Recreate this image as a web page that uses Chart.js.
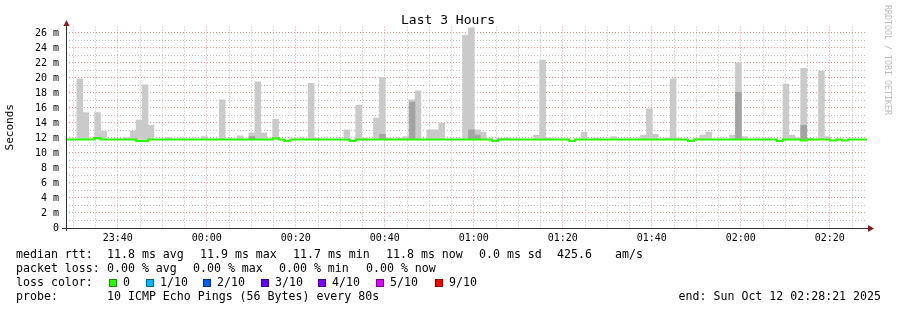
<!DOCTYPE html>
<html>
<head>
<meta charset="utf-8">
<script src="https://cdn.jsdelivr.net/npm/chart.js@4"></script>
<style>
  html, body { margin: 0; padding: 0; background: #fff; }
</style>
</head>
<body>
<canvas id="smoke" width="897" height="310"></canvas>
<script>
var ctx = document.getElementById('smoke').getContext('2d');
var mono = "'DejaVu Sans Mono', monospace";

// time axis: seconds relative to 00:00 (negative = before midnight)
var xMin = -1899;          // 23:28:21
var xMax = 8901;           // 02:28:21
var firstStep = -1753;     // 23:30:47, start of step 0
var stepLen = 80;          // one ping round every 80s
var gridStep = 300;        // minor grid every 5 min
var majorStep = 1200;      // labelled grid every 20 min

var tickTimes = [-1200, 0, 1200, 2400, 3600, 4800, 6000, 7200, 8400];
var tickLabels = ['23:40', '00:00', '00:20', '00:40', '01:00', '01:20', '01:40', '02:00', '02:20'];

// smoke (ms): step index -> highest ping of that round
var smokeLow = 11.8;
var smokeStep = [0, 1, 3, 4, 8, 9, 10, 11, 12, 15, 21, 24, 27, 29, 30, 31, 33, 39, 40, 45, 47, 48, 50, 51, 52,
  54, 55, 56, 57, 59, 60, 61, 65, 66, 67, 68, 71, 72, 77, 78, 79, 85, 87, 90, 95, 96, 97, 99, 100, 101,
  104, 105, 106, 110, 111, 112, 116, 119, 120, 121, 122, 123, 125, 126];
var smokeTop = [19.9, 15.4, 15.4, 12.9, 12.05, 12.9, 14.4, 19.1, 13.7, 12.05, 12.2, 17.1, 12.3, 12.7, 19.5, 12.7,
  14.5, 19.3, 12.0, 13.1, 16.4, 12.0, 14.7, 20.1, 12.0, 12.0, 12.2, 17.1, 18.3, 13.1, 13.1, 14.0, 25.7, 26.7,
  13.1, 12.8, 12.0, 12.0, 12.4, 22.4, 12.0, 12.8, 12.0, 12.2, 12.4, 15.9, 12.5, 12.0, 19.9, 12.0, 12.0, 12.4,
  12.8, 12.4, 22.0, 12.2, 12.0, 19.2, 12.4, 12.0, 21.3, 12.0, 20.9, 12.2];

// denser part of the smoke
var darkStep = [29, 51, 56, 66, 67, 111, 122];
var darkTop = [12.2, 12.5, 16.8, 13.1, 12.4, 18.1, 13.7];

// median rtt (ms), value from that step on
var medianStep = [-2, 3, 4, 10, 12, 33, 34, 35, 36, 46, 47, 70, 71, 83, 84, 103, 104, 118, 119, 122, 123, 127, 128, 129, 130];
var medianValue = [11.8, 12.0, 11.8, 11.6, 11.8, 11.95, 11.8, 11.6, 11.8, 11.6, 11.8, 11.6, 11.8, 11.6, 11.8,
  11.6, 11.8, 11.6, 11.8, 11.65, 11.8, 11.65, 11.8, 11.65, 11.8];

// legend texts
var titleText = 'Last 3 Hours';
var rttStats = ['11.8 ms avg', '11.9 ms max', '11.7 ms min', '11.8 ms now', '0.0 ms sd', '425.6', 'am/s'];
var lossStats = ['0.00 % avg', '0.00 % max', '0.00 % min', '0.00 % now'];
var lossLabels = ['0', '1/10', '2/10', '3/10', '4/10', '5/10', '9/10'];
var lossColors = ['#26ff00', '#00b8ff', '#0059ff', '#5e00ff', '#7e00ff', '#dd00ff', '#ff0000'];
var probeText = '10 ICMP Echo Pings (56 Bytes) every 80s';
var endText = 'end: Sun Oct 12 02:28:21 2025';

function stepX(k) { return firstStep + k * stepLen; }

var lightSmoke = smokeStep.map(function (k, i) {
  return { x: stepX(k) + stepLen / 2, y: [smokeLow, smokeTop[i]] };
});
var darkSmoke = darkStep.map(function (k, i) {
  return { x: stepX(k) + stepLen / 2, y: [smokeLow, darkTop[i]] };
});
var medianLine = medianStep.map(function (k, i) {
  return { x: stepX(k), y: medianValue[i] };
});
medianLine.push({ x: xMax, y: medianValue[medianValue.length - 1] });

var majorGrid = '#ec9494';
var minorGrid = '#bdbdbd';

var rrdExtras = {
  id: 'rrdExtras',
  afterDraw: function (chart) {
    var c = chart.ctx;
    var a = chart.chartArea;
    c.save();

    // title
    c.fillStyle = '#000';
    c.font = '13px ' + mono;
    c.textAlign = 'center';
    c.textBaseline = 'alphabetic';
    c.fillText(titleText, 448, 24);

    // axes
    c.strokeStyle = '#333';
    c.lineWidth = 1;
    c.beginPath();
    c.moveTo(62, Math.round(a.bottom) + 0.5);
    c.lineTo(a.right + 1, Math.round(a.bottom) + 0.5);
    c.moveTo(66.5, a.bottom + 3);
    c.lineTo(66.5, 24);
    c.stroke();

    // arrow heads
    c.fillStyle = '#8b1a1a';
    c.beginPath();
    c.moveTo(63.5, 26); c.lineTo(69.5, 26); c.lineTo(66.5, 20); c.closePath();
    c.fill();
    c.beginPath();
    c.moveTo(868, a.bottom - 3); c.lineTo(868, a.bottom + 4); c.lineTo(874, a.bottom + 0.5); c.closePath();
    c.fill();

    // legend
    c.fillStyle = '#000';
    c.font = '11.6px ' + mono;
    c.textAlign = 'left';
    var rttX = [107, 200, 293, 386, 479, 557, 615];
    c.fillText('median rtt:', 16, 258);
    rttStats.forEach(function (t, i) { c.fillText(t, rttX[i], 258); });

    var lossX = [107, 193, 279, 366];
    c.fillText('packet loss:', 16, 272);
    lossStats.forEach(function (t, i) { c.fillText(t, lossX[i], 272); });

    var swX = [109, 146, 203, 261, 318, 376, 435];
    c.fillText('loss color:', 16, 286);
    lossLabels.forEach(function (t, i) {
      c.fillStyle = lossColors[i];
      c.fillRect(swX[i], 279, 8, 8);
      c.strokeStyle = 'rgba(0,0,0,0.45)';
      c.strokeRect(swX[i] + 0.5, 279.5, 7, 7);
      c.fillStyle = '#000';
      c.fillText(t, swX[i] + 14, 286);
    });

    c.fillText('probe:', 16, 300);
    c.fillText(probeText, 107, 300);
    c.textAlign = 'right';
    c.fillText(endText, 881, 300);

    // watermark
    c.translate(887, 5);
    c.rotate(Math.PI / 2);
    c.font = '8.3px ' + mono;
    c.fillStyle = '#bbbbbb';
    c.textAlign = 'left';
    c.textBaseline = 'middle';
    c.fillText('RRDTOOL / TOBI OETIKER', 0, 0);
    c.restore();
  }
};

var chart = new Chart(ctx, {
  type: 'bar',
  data: {
    datasets: [{
      type: 'line',
      label: 'median rtt',
      data: medianLine,
      borderColor: '#26ff00',
      borderWidth: 2,
      pointRadius: 0,
      stepped: 'before',
      order: 0
    }, {
      label: 'smoke dense',
      data: darkSmoke,
      backgroundColor: '#a3a3a3',
      borderWidth: 0,
      grouped: false,
      barPercentage: 1,
      categoryPercentage: 1,
      order: 1
    }, {
      label: 'smoke',
      data: lightSmoke,
      backgroundColor: '#cacaca',
      borderWidth: 0,
      grouped: false,
      barPercentage: 1,
      categoryPercentage: 1,
      order: 2
    }]
  },
  options: {
    responsive: false,
    animation: false,
    layout: { padding: { left: 4, right: 30, top: 26.6, bottom: 0 } },
    plugins: {
      legend: { display: false },
      tooltip: { enabled: false },
      title: { display: false }
    },
    scales: {
      x: {
        type: 'linear',
        min: xMin,
        max: xMax,
        offset: false,
        afterFit: function (s) { s.height = 82; },
        afterBuildTicks: function (s) {
          var t = [];
          for (var v = Math.ceil(xMin / gridStep) * gridStep; v <= xMax; v += gridStep) t.push({ value: v });
          s.ticks = t;
        },
        grid: {
          offset: false,
          drawTicks: false,
          color: function (c) { return c.tick && c.tick.value % majorStep === 0 ? majorGrid : minorGrid; }
        },
        border: { display: false, dash: [1, 2] },
        ticks: {
          autoSkip: false,
          maxRotation: 0,
          padding: 4,
          color: '#000',
          font: { family: mono, size: 10 },
          callback: function (v) {
            var i = tickTimes.indexOf(v);
            return i >= 0 ? tickLabels[i] : '';
          }
        }
      },
      y: {
        min: 0,
        max: 26.85,
        afterFit: function (s) { s.width = 62; },
        grid: {
          drawTicks: false,
          color: function (c) { return c.tick && c.tick.value % 2 === 0 ? majorGrid : minorGrid; }
        },
        border: { display: false, dash: [1, 2] },
        title: {
          display: true,
          text: 'Seconds',
          color: '#000',
          font: { family: mono, size: 11 },
          padding: { top: 0, bottom: 0 }
        },
        ticks: {
          stepSize: 1,
          includeBounds: false,
          autoSkip: false,
          padding: 7,
          color: '#000',
          font: { family: mono, size: 10 },
          callback: function (v) {
            if (v % 2 !== 0) return '';
            return v === 0 ? '0' : v + ' m';
          }
        }
      }
    }
  },
  plugins: [rrdExtras]
});
</script>
</body>
</html>
